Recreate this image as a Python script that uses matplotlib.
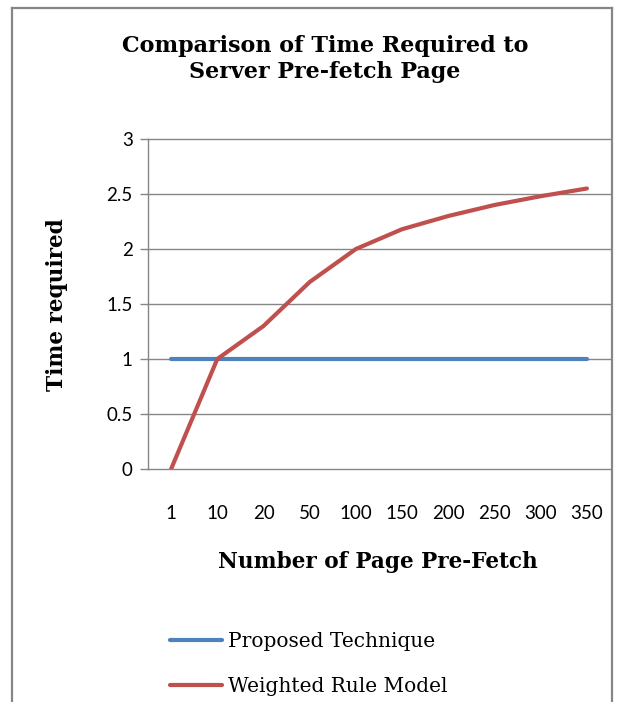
import matplotlib
matplotlib.use("Agg")
import matplotlib.pyplot as plt
from matplotlib.lines import Line2D

categories = ["1", "10", "20", "50", "100", "150", "200", "250", "300", "350"]
proposed = [1, 1, 1, 1, 1, 1, 1, 1, 1, 1]
weighted = [0, 1.0, 1.3, 1.7, 2.0, 2.18, 2.3, 2.4, 2.48, 2.55]
yticks = [0, 0.5, 1, 1.5, 2, 2.5, 3]
ytick_labels = ["0", "0.5", "1", "1.5", "2", "2.5", "3"]

W, H = 618, 702
fig = plt.figure(figsize=(W / 100, H / 100), dpi=100)
fig.patch.set_facecolor("white")

# outer chart border
bc = "#868686"
fig.add_artist(Line2D([12 / W, 12 / W], [-0.1, 1 - 8 / H], transform=fig.transFigure, color=bc, lw=1.6))
fig.add_artist(Line2D([12 / W, 612 / W], [1 - 8 / H, 1 - 8 / H], transform=fig.transFigure, color=bc, lw=1.6))
fig.add_artist(Line2D([612 / W, 612 / W], [-0.1, 1 - 8 / H], transform=fig.transFigure, color=bc, lw=1.6))

left, right, top, bottom = 148, 610, 139, 469
ax = fig.add_axes([left / W, 1 - bottom / H, (right - left) / W, (bottom - top) / H])
x = list(range(len(categories)))
l1, = ax.plot(x, proposed, color="#4F81BD", lw=3.0, solid_capstyle="round", zorder=3)
l2, = ax.plot(x, weighted, color="#C0504D", lw=3.0, solid_capstyle="round", zorder=4)

ax.set_xlim(-0.5, len(categories) - 0.5)
ax.set_ylim(0, 3)
ax.set_yticks(yticks)
ax.set_yticklabels(ytick_labels)
ax.set_xticks(x)
ax.set_xticklabels(categories)
for s in ["top", "right", "bottom"]:
    ax.spines[s].set_visible(False)
ax.spines["left"].set_color(bc)
ax.spines["left"].set_linewidth(1.0)
ax.yaxis.grid(True, color=bc, lw=1.0)
for gl in ax.yaxis.get_gridlines():
    gl.set_clip_on(False)
ax.set_axisbelow(True)
ax.tick_params(axis="y", length=6, color=bc, width=1.0, pad=5)
ax.tick_params(axis="x", length=0, pad=26)
for lab in ax.get_xticklabels() + ax.get_yticklabels():
    lab.set_fontfamily("Lato")
    lab.set_fontsize(13.5)
    lab.set_color("#000000")

# title
fig.text(325 / W, 1 - 59 / H, "Comparison of Time Required to\nServer Pre-fetch Page",
         ha="center", va="center", fontfamily="DejaVu Serif", fontweight="bold",
         fontsize=16, linespacing=1.28)
# axis labels
fig.text(378 / W, 1 - 562 / H, "Number of Page Pre-Fetch", ha="center", va="center",
         fontfamily="DejaVu Serif", fontweight="bold", fontsize=15.6)
fig.text(57 / W, 1 - 305 / H, "Time required", ha="center", va="center", rotation=90,
         fontfamily="DejaVu Serif", fontweight="bold", fontsize=15.6)

leg = fig.legend([l1, l2], ["Proposed Technique", "Weighted Rule Model"],
                 loc="upper left", bbox_to_anchor=(170 / W, 1 - 632 / H),
                 frameon=False, handlelength=2.6, handletextpad=0.3, labelspacing=1.3,
                 prop={"family": "DejaVu Serif", "size": 14.5}, borderaxespad=0, borderpad=0)
for t in leg.get_texts():
    t.set_color("#000000")

fig.savefig("out.png", dpi=100, facecolor="white")
